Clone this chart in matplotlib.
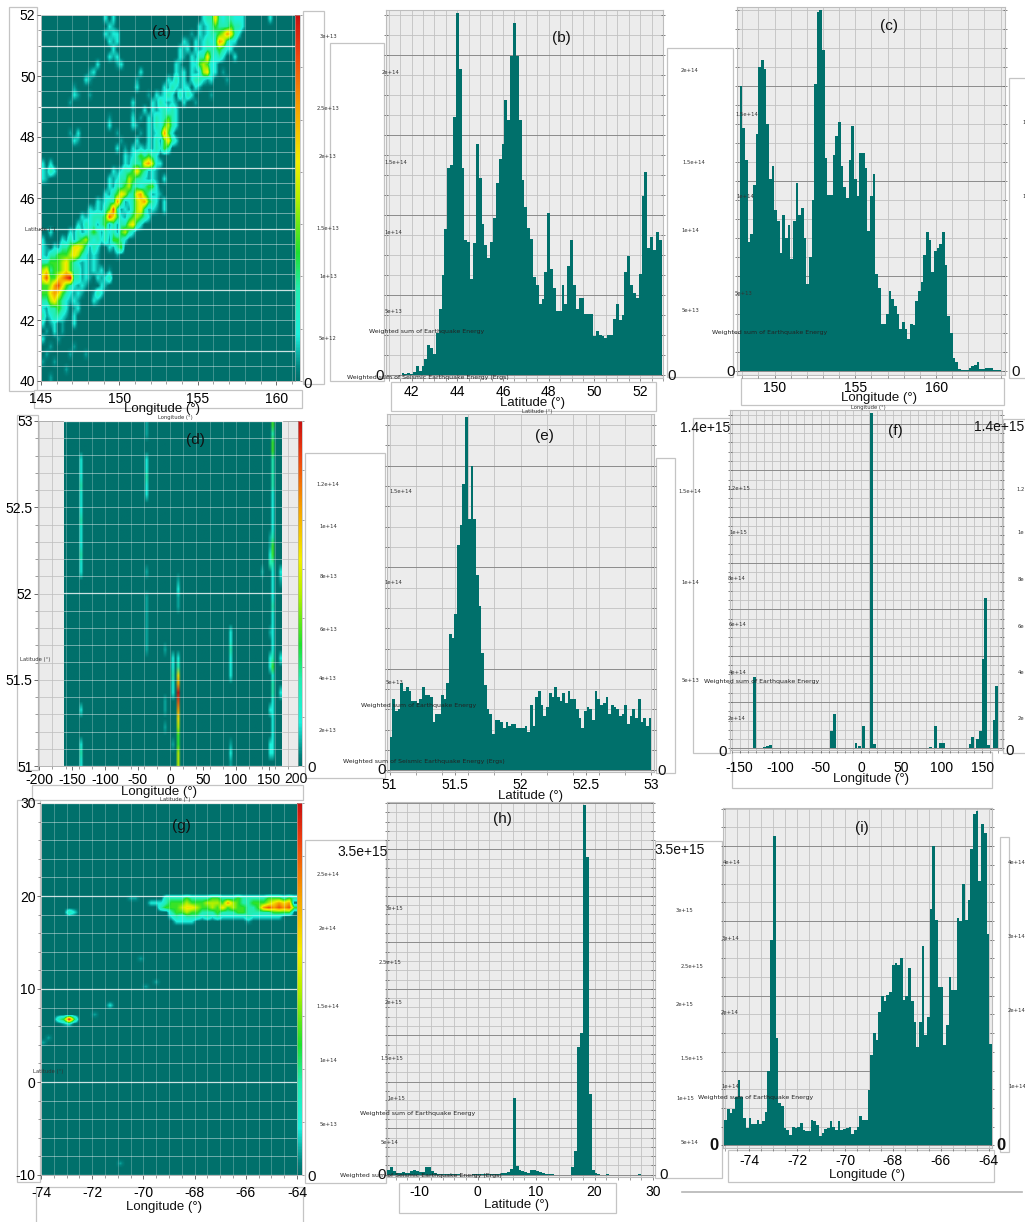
import numpy as np
import matplotlib
matplotlib.use('Agg')
import matplotlib.pyplot as plt
from matplotlib.colors import LinearSegmentedColormap
from matplotlib.patches import Rectangle
from matplotlib.ticker import MultipleLocator

W = 1025
H = 1222
plt.rcParams['font.family'] = ['Liberation Sans', 'DejaVu Sans']

# energy level of each cell as one digit, 1 = 1/8 of the colour scale, + = half of 1
a_rows = [
    "................1.1......................12252122111......1",
    ".................1+.....................1+1232223221",
    "................1+11..................+.1+122346521",
    ".................1+1................1+.1+121265211",
    "..................1................1+1.1+12223211",
    ".................1+1...............1+.1+2252121..1",
    "..............1....+1.............1+..1134311",
    "............+1...........1........1+1.1+14511.+",
    "...........1+...........+.......1+2+1.1221+1...+",
    "........+...............1......1+21+11.1+",
    "........1+..+..............+.1+121.2+21....+",
    ".......+...............1....1+21+1+.1..+",
    ".......................+..1.1+12121",
    ".................+.....1.+.1+212321",
    ".................1.....1+..1+213421",
    ".......+.1.........+.....+.1+12631",
    "........1+..........+...1..1+2+3521",
    "...................1.+.1+1+1+2132",
    ".....................1+1232321",
    "1.1..................1+22256411",
    "1+21..............1+1223532+1+",
    "1+...............1+12243221+1+.1",
    ".................1+22342212331",
    "................1+2354225632+1+",
    "..............1+12263+12456321.1",
    "............1+1+2372+1+2452+1+.1",
    "..........1+122237531+234321",
    ".........1+212+23+2+224521",
    "..1....1+2+1232+212+3421",
    "1....1+2+23421212+3321",
    "1+.1+2235542+21..1+23",
    "1+2233345421+1+....+",
    "2233345321+1+1+",
    "4523345322+1+1+1.+",
    "5733567822+1+.1+12",
    "334675321+1+...1+",
    "33565321+1+..+21",
    "2245321+1+...1+",
    "1+22321.+1",
    "2+1221+.1",
    "1.+1.+..1",
    ".+.1.+",
    "1...+",
    "..+.....+",
    ".+.....+...+",
    "+..+",
    "......+",
    "..+",
]

# longitude of each streak and its level along latitude, from 53 down to 51
d_lons = [-135, -37, 12, 2, 92, 150, 155, 168, 140, -8]
d_columns = [
    "....11121112111211...............1...1212",
    "++..11211........+..+++++++",
    "..................+1++.....12568765433443",
    "...........................11211.....+",
    "........................112111.......+1+",
    ".............++12.......+..11....1...11",
    "323322221111123321111211111231221111111",
    ".................1+........1...1",
    ".................+",
    "..........................+.....++.+",
]

# only the latitudes with something on them are listed
g_lats = [19.75, 19.25, 18.75, 18.25, 17.75, 17.25, 13.25, 10.75, 10.25, 8.25, 7.25, 6.75, 6.25, 4.75, 4.25, -8.75]
g_rows = [
    ".................++.....22223222233222322222333232",
    ".....................1112333433344436432233345656",
    ".......................233345543343534332236767673",
    ".....21..................233433222322233222223333",
    ".........................1212221212111112111111",
    "..........................1111..........+",
    "...................+",
    "......................+",
    "....................+",
    ".............1",
    "..........+",
    "...2383.",
    "....+1",
    ".+",
    "+",
    "...............+",
]

b_start = 41.56
b_step = 0.125
b_values = [0.1, 0.06, 0.1, 0.06, 0.15, 0.56, 0.2, 0.56, 0.98, 1.87, 1.67, 1.31, 2.6, 4.1, 6.2, 9.1, 12.9, 13.1,
            16.1, 22.6, 19.1, 12.9, 8.4, 8.3, 6.0, 8.2, 14.4, 12.3, 9.4, 8.1, 7.3, 8.3, 9.8, 12.0, 13.5, 14.4,
            17.2, 15.9, 19.9, 22.0, 19.9, 15.9, 12.2, 10.5, 9.2, 8.5, 6.1, 5.6, 4.4, 4.7, 6.4, 10.1, 6.6, 5.4,
            4.0, 4.0, 5.6, 4.4, 6.8, 8.4, 5.6, 4.1, 4.8, 4.8, 3.8, 3.8, 3.8, 2.4, 2.7, 2.5, 2.4, 2.3, 2.5, 2.5,
            3.5, 4.4, 3.4, 3.7, 6.4, 7.4, 5.6, 5.1, 4.8, 6.3, 11.2, 12.7, 7.9, 8.6, 7.8, 8.9, 8.4]

c_start = 147.83
c_step = 0.165
c_values = [15.0, 12.8, 11.1, 6.8, 7.2, 9.8, 12.5, 16.0, 16.4, 15.9, 13.0, 10.1, 10.8, 8.5, 7.9, 6.2, 8.2, 7.0,
            7.7, 5.9, 7.9, 9.9, 8.2, 8.6, 7.0, 4.6, 6.0, 9.0, 15.1, 18.9, 19.0, 16.9, 11.2, 9.3, 9.3, 11.4, 12.4,
            13.1, 10.8, 9.7, 9.1, 11.1, 12.9, 10.1, 9.2, 11.5, 11.5, 10.7, 7.4, 9.2, 10.4, 5.1, 4.4, 2.5, 2.5,
            3.0, 4.2, 3.8, 3.4, 3.0, 2.2, 2.6, 2.2, 1.7, 2.5, 2.4, 3.7, 4.2, 4.7, 6.1, 7.3, 6.9, 5.2, 6.3, 6.5,
            6.7, 7.3, 5.6, 2.9, 2.0, 0.67, 0.49, 0.09, 0.05, 0.05, 0.05, 0.14, 0.26, 0.32, 0.49, 0.09, 0.09,
            0.14, 0.14, 0.14, 0.05, 0.05, 0.05]

e_start = 51.0
e_values = [1.65, 3.5, 2.9, 3.0, 4.3, 3.9, 4.1, 3.9, 3.4, 3.4, 3.3, 3.5, 4.1, 3.7, 3.7, 3.6, 2.4, 2.8, 2.8, 3.7,
            3.5, 4.3, 6.7, 6.5, 7.7, 11.1, 12.1, 14.1, 17.4, 12.4, 15.0, 12.4, 9.6, 8.1, 5.8, 4.2, 3.0, 2.8, 1.8,
            2.5, 2.5, 2.4, 2.1, 2.4, 2.2, 2.3, 2.3, 2.1, 2.1, 2.1, 2.2, 1.9, 3.2, 2.2, 3.6, 3.9, 3.2, 2.7, 3.1,
            3.8, 3.6, 4.1, 3.6, 3.4, 3.8, 3.3, 3.9, 3.5, 3.5, 3.0, 2.6, 2.1, 2.9, 3.1, 3.0, 2.5, 3.9, 3.5, 3.2,
            3.3, 3.6, 2.8, 3.2, 3.1, 3.0, 2.7, 2.8, 3.2, 2.3, 2.7, 3.0, 2.6, 3.5, 2.4, 2.6, 2.2, 2.6]

f_lons = [-160, -146, -137.5, -133.4, -129, -125, -121, -117, -114, -111, -84, -38.8, -35, -8, -3.6, 1.3, 6, 11.4, 15,
          77, 84, 90, 97, 100, 110, 128, 133.5, 136, 142.6, 146, 149.6, 152.5, 156, 163, 166]
f_values = [0.03, 0.02, 0.03, 3.1, 0.03, 0.02, 0.05, 0.12, 0.15, 0.03, 0.03, 0.75, 1.5, 0.22, 0.1, 0.95, 0.03, 14.46,
            0.17, 0.02, 0.05, 0.97, 0.25, 0.25, 0.02, 0.03, 0.17, 0.5, 0.4, 0.75, 3.84, 6.5, 0.15, 1.22, 2.7]

h_start = -15.5
h_step = 0.5
h_values = [0.47, 0.83, 0.4, 0.2, 0.2, 0.25, 0.2, 0.2, 0.35, 0.55, 0.35, 0.25, 0.25, 0.8, 0.8, 0.35, 0.2, 0.12, 0.1,
            0.05, 0.05, 0.02, 0.02, 0.02, 0.02, 0, 0, 0, 0, 0.02, 0.02, 0.02, 0.02, 0.02, 0.03, 0.03, 0.05, 0.1,
            0.12, 0.15, 0.2, 0.25, 0.57, 8.2, 0.9, 0.55, 0.35, 0.3, 0.15, 0.45, 0.45, 0.35, 0.25, 0.15, 0.12, 0.1,
            0.08, 0, 0, 0, 0, 0, 0, 0.8, 2.6, 13.7, 15.2, 39.8, 34.2, 8.7, 0.55, 0.2, 0.05, 0, 0, 0.05, 0, 0, 0, 0,
            0, 0, 0, 0, 0, 0, 0.05]

i_start = -75.05
i_step = 0.113
i_values = [0.34, 0.48, 0.43, 0.48, 0.65, 0.87, 0.65, 0.36, 0.23, 0.36, 0.28, 0.28, 0.34, 0.28, 0.32, 0.45, 1.0, 2.74,
            4.14, 1.43, 0.56, 0.52, 0.23, 0.21, 0.14, 0.25, 0.23, 0.25, 0.3, 0.21, 0.19, 0.19, 0.34, 0.32, 0.27,
            0.13, 0.16, 0.22, 0.23, 0.32, 0.25, 0.2, 0.32, 0.21, 0.22, 0.23, 0.24, 0.15, 0.21, 0.25, 0.39, 0.34,
            0.34, 0.74, 1.21, 1.5, 1.41, 1.78, 1.99, 1.93, 2.01, 2.05, 2.41, 2.44, 2.41, 2.51, 1.94, 2.0, 2.37,
            1.93, 1.65, 1.31, 1.65, 2.67, 1.48, 1.71, 3.16, 4.0, 3.01, 2.11, 2.11, 1.34, 1.61, 2.25, 2.08, 2.08,
            3.04, 3.0, 3.5, 3.01, 3.28, 3.96, 4.43, 4.47, 3.54, 4.29, 4.17, 2.83, 1.36]

TEAL = '#00706b'
energy_map = LinearSegmentedColormap.from_list('energy', [
    (0.0, TEAL), (0.03, '#00807c'), (0.125, '#1cf0dc'), (0.25, '#24ecb0'), (0.35, '#1fe030'),
    (0.5, '#b4f000'), (0.6, '#f2ee00'), (0.75, '#f5a000'), (0.9, '#ee4010'), (1.0, '#c81010')])


def level(ch):
    if ch == '.':
        return 0.0
    if ch == '+':
        return 0.5
    return float(ch)


def fig_box(l, t, r, b):
    return [l / W, 1 - b / H, (r - l) / W, (b - t) / H]


def frame(l, t, r, b):
    fig.add_artist(Rectangle((l / W, 1 - b / H), (r - l) / W, (b - t) / H, transform=fig.transFigure,
                             fc='white', ec='#c4c4c4', lw=0.9, zorder=-1))


def put(x, y, s, size=9.5, **kw):
    kw.setdefault('ha', 'center')
    kw.setdefault('color', '#111111')
    fig.text(x / W, 1 - y / H, s, fontsize=size, va='center', **kw)


def tiny(items):
    for x, y, s in items:
        put(x, y, s, size=3.8, family='DejaVu Sans', color='#333333')


def weighted(x, y):
    put(x, y, 'Weighted sum of Earthquake Energy', size=4.5, family='DejaVu Sans', color='#222222')


def seismic(x, y):
    put(x, y, 'Weighted sum of Seismic Earthquake Energy (Ergs)', size=4.5, family='DejaVu Sans', color='#222222')


def heat_panel(box, cb_box, grid, extent, xlim, ylim, vmax, xticks, xlabels, yticks, ylabels, vstep, hstep, bright,
               minor_y, pad=2):
    ax = fig.add_axes(fig_box(*box))
    ax.set_facecolor('#ebebeb')
    im = ax.imshow(grid * vmax / 8.0, extent=extent, origin='upper', aspect='auto', cmap=energy_map, vmin=0, vmax=vmax,
                   interpolation='bilinear', zorder=2)
    ax.set_xlim(xlim)
    ax.set_ylim(ylim)
    ax.set_xticks(xticks)
    ax.set_xticklabels(xlabels)
    ax.set_yticks(yticks)
    ax.set_yticklabels(ylabels)
    ax.xaxis.set_minor_locator(MultipleLocator(vstep))
    ax.yaxis.set_minor_locator(MultipleLocator(minor_y))
    ax.tick_params(axis='x', which='major', labelsize=10, length=3, width=0.6, color='#555555', pad=pad)
    ax.tick_params(axis='y', which='major', labelsize=10, length=3, width=0.6, color='#555555', pad=1)
    ax.tick_params(axis='both', which='minor', length=2, width=0.4, color='#555555')
    for s in ax.spines.values():
        s.set_color('#aaaaaa')
        s.set_linewidth(0.6)
    # white grid sits on the coloured cells, gray one on the empty part
    ax.grid(True, which='both', color='#bdbdbd', lw=0.5, zorder=1)
    x0, x1 = extent[0], extent[1]
    for v in np.arange(np.ceil(ylim[0] / hstep) * hstep, ylim[1] + hstep / 2, hstep):
        strong = np.isclose((v - bright[0]) % bright[1], 0) or np.isclose((v - bright[0]) % bright[1], bright[1])
        ax.plot([x0, x1], [v, v], color='white', lw=0.9 if strong else 0.6, alpha=0.8 if strong else 0.5, zorder=3)
    for v in np.arange(np.ceil(x0 / vstep) * vstep, x1, vstep):
        ax.plot([v, v], [extent[2], extent[3]], color='white', lw=0.5, alpha=0.35, zorder=3)
    cax = fig.add_axes(fig_box(*cb_box))
    cb = fig.colorbar(im, cax=cax)
    cb.set_ticks(np.linspace(0, vmax, 8))
    cb.ax.tick_params(labelright=False, length=1.5, width=0.4, color='#555555')
    cb.outline.set_edgecolor('#aaaaaa')
    cb.outline.set_linewidth(0.4)
    return ax


def hist_panel(box, lefts, values, width, xlim, ylim, xticks, xlabels, major_y, minor_y, grid_x, pad=3):
    ax = fig.add_axes(fig_box(*box))
    ax.set_facecolor('#ececec')
    ax.bar(lefts, values, width=width, align='edge', color=TEAL, lw=0, zorder=3)
    ax.set_xlim(xlim)
    ax.set_ylim(ylim)
    ax.set_xticks(xticks)
    ax.set_xticklabels(xlabels)
    ax.yaxis.set_major_locator(MultipleLocator(major_y))
    ax.yaxis.set_minor_locator(MultipleLocator(minor_y))
    ax.xaxis.set_minor_locator(MultipleLocator(grid_x))
    ax.grid(True, axis='y', which='major', color='#8c8c8c', lw=0.7, zorder=1)
    ax.grid(True, axis='y', which='minor', color='#c2c2c2', lw=0.6, zorder=1)
    ax.grid(True, axis='x', which='both', color='#c2c2c2', lw=0.6, zorder=1)
    ax.tick_params(axis='y', which='both', left=True, right=True, labelleft=False, direction='inout', length=3,
                   width=0.5, color='#555555')
    ax.tick_params(axis='x', which='major', labelsize=10, length=2, width=0.5, color='#555555', pad=pad)
    ax.tick_params(axis='x', which='minor', length=2, width=0.4, color='#555555')
    for s in ax.spines.values():
        s.set_color('#bdbdbd')
        s.set_linewidth(0.8)
    return ax


fig = plt.figure(figsize=(W / 100, H / 100), dpi=100, facecolor='white')

# outlines left over around the original panels
for f in [(9, 7, 37, 391), (303, 11, 324, 384), (330, 43, 384, 381), (34, 390, 302, 408), (391, 382, 656, 411),
          (667, 48, 733, 377), (1009, 78, 1030, 378), (741, 378, 1004, 405),
          (17, 415, 38, 770), (305, 453, 385, 778), (32, 785, 303, 800), (656, 458, 675, 773), (693, 418, 730, 753),
          (1003, 419, 1030, 753), (732, 752, 992, 788),
          (17, 800, 40, 1182), (305, 840, 386, 1183), (36, 1187, 303, 1230), (399, 1183, 616, 1213),
          (655, 841, 722, 1178), (1000, 837, 1009, 1152), (728, 1150, 994, 1182)]:
    frame(*f)

# (a) heat map
a_grid = np.zeros((48, 65))
for r, row in enumerate(a_rows):
    for c, ch in enumerate(row[:65]):
        a_grid[r, c] = level(ch)
heat_panel((41, 15, 295, 381), (295, 15, 300, 381), a_grid, (145, 161.25, 40, 52), (145, 161.2), (40, 52), 3.2e13,
           [145, 150, 155, 160], ['145', '150', '155', '160'], [40, 42, 44, 46, 48, 50, 52],
           ['40', '42', '44', '46', '48', '50', '52'], 1, 0.5, (1, 2), 0.5, pad=5)
put(161, 32, '(a)', size=11)
put(162, 409, 'Longitude (°)')
put(308, 384, '0', size=11)
tiny([(328, 36, '3e+13'), (328, 108, '2.5e+13'), (328, 156, '2e+13'), (328, 229, '1.5e+13'), (328, 277, '1e+13'),
      (328, 338, '5e+12'), (40, 229, 'Latitude (°)'), (175, 418, 'Longitude (°)')])

# (b)
hist_panel((386, 10, 663, 378), b_start + b_step * np.arange(len(b_values)), np.array(b_values) * 1e13, b_step,
           (40.88, 53.0), (-0.21e13, 22.8e13), [42, 44, 46, 48, 50, 52], ['42', '44', '46', '48', '50', '52'],
           5e13, 1.25e13, 0.5, pad=3)
put(561, 38, '(b)', size=11)
put(532, 403, 'Latitude (°)')
put(380, 376, '0', size=11)
put(672, 376, '0', size=11)
weighted(427, 331)
seismic(428, 378)
tiny([(391, 72, '2e+14'), (396, 162, '1.5e+14'), (393, 232, '1e+14'), (393, 312, '5e+13'),
      (690, 71, '2e+14'), (694, 163, '1.5e+14'), (690, 231, '1e+14'), (690, 310, '5e+13'), (537, 412, 'Latitude (°)')])

# (c)
hist_panel((737, 7, 1005, 375), c_start + c_step * np.arange(len(c_values)), np.array(c_values) * 1e13, c_step,
           (147.67, 164.27), (-0.21e13, 19.18e13), [150, 155, 160], ['150', '155', '160'], 5e13, 1e13, 1, pad=2)
put(889, 26, '(c)', size=11)
put(879, 398, 'Longitude (°)')
put(731, 372, '0', size=11)
put(1016, 372, '0', size=11)
weighted(770, 332)
tiny([(747, 114, '1.5e+14'), (745, 197, '1e+14'), (743, 293, '5e+13'), (1024, 122, '1'), (1024, 197, '1'),
      (868, 407, 'Longitude (°)')])

# (d) heat map
d_grid = np.zeros((40, 83))
for lon, col in zip(d_lons, d_columns):
    k = int((lon + 162) // 4)
    for r, ch in enumerate(col[:40]):
        d_grid[r, k] = level(ch)
heat_panel((38, 421, 298, 766), (298, 421, 302, 766), d_grid, (-162, 170, 51, 53), (-202, 195), (51, 53), 1.4e14,
           [-200, -150, -100, -50, 0, 50, 100, 150],
           ['-200', '-150', '-100', '-50', '0', '50', '100', '150'], [51, 51.5, 52, 52.5, 53],
           ['51', '51.5', '52', '52.5', '53'], 20, 0.1, (52, 1), 0.1, pad=2)
put(195, 440, '(d)', size=11)
put(159, 792, 'Longitude (°)')
put(296, 779, '200', size=10)
put(312, 768, '0', size=11)
tiny([(328, 485, '1.2e+14'), (328, 527, '1e+14'), (328, 577, '8e+13'), (328, 629, '6e+13'), (328, 679, '4e+13'),
      (328, 730, '2e+13'), (35, 659, 'Latitude (°)'), (175, 799, 'Latitude (°)')])

# (e)
hist_panel((387, 414, 654, 772), e_start + (2.0 / len(e_values)) * np.arange(len(e_values)), np.array(e_values) * 1e13,
           2.0 / len(e_values), (50.98, 53.02), (-0.08e13, 17.55e13), [51, 51.5, 52, 52.5, 53],
           ['51', '51.5', '52', '52.5', '53'], 5e13, 1e13, 0.2, pad=2)
put(544, 436, '(e)', size=11)
put(531, 796, 'Latitude (°)')
put(382, 770, '0', size=11)
put(662, 771, '0', size=11)
weighted(419, 706)
seismic(424, 761)
tiny([(401, 492, '1.5e+14'), (393, 583, '1e+14'), (394, 683, '5e+13'), (690, 492, '1.5e+14'), (690, 583, '1e+14'),
      (690, 681, '5e+13')])

# (f)
hist_panel((730, 410, 1002, 750), f_lons, np.array(f_values) * 1e14, 3.6, (-162, 174.4), (-0.07e14, 14.6e14),
           [-150, -100, -50, 0, 50, 100, 150], ['-150', '-100', '-50', '0', '50', '100', '150'], 2e14, 0.4e14, 10,
           pad=6)
put(895, 431, '(f)', size=11)
put(871, 779, 'Longitude (°)')
put(705, 428, '1.4e+15', size=10)
put(999, 427, '1.4e+15', size=10)
put(723, 752, '0', size=11)
put(1010, 751, '0', size=11)
weighted(762, 682)
tiny([(739, 488, '1.2e+15'), (738, 532, '1e+15'), (737, 578, '8e+14'), (738, 625, '6e+14'), (738, 672, '4e+14'),
      (737, 718, '2e+14'), (1021, 489, '1.2'), (1021, 533, '1e'), (1021, 579, '8e'), (1021, 626, '6e'),
      (1021, 672, '4e'), (1021, 718, '2e')])

# (g) heat map
g_grid = np.zeros((80, 50))
for lat, row in zip(g_lats, g_rows):
    r = int((30 - lat) / 0.5)
    for c, ch in enumerate(row[:50]):
        g_grid[r, c] = level(ch)
heat_panel((41, 803, 297, 1175), (297, 803, 302, 1175), g_grid, (-74, -64, -10, 30), (-74, -64), (-10, 30), 2.8e14,
           [-74, -72, -70, -68, -66, -64], ['-74', '-72', '-70', '-68', '-66', '-64'], [-10, 0, 10, 20, 30],
           ['-10', '0', '10', '20', '30'], 0.5, 2, (10, 10), 2, pad=5)
put(181, 826, '(g)', size=11)
put(164, 1207, 'Longitude (°)')
put(312, 1177, '0', size=11)
tiny([(328, 875, '2.5e+14'), (328, 928, '2e+14'), (328, 1006, '1.5e+14'), (328, 1060, '1e+14'), (328, 1125, '5e+13'),
      (48, 1071, 'Latitude (°)')])

# (h)
hist_panel((387, 802, 653, 1177), h_start + h_step * np.arange(len(h_values)), np.array(h_values) * 1e14, h_step,
           (-15.5, 30.0), (-0.25e14, 40.1e14), [-10, 0, 10, 20, 30], ['-10', '0', '10', '20', '30'], 5e14, 1e14, 2,
           pad=4)
put(502, 819, '(h)', size=11)
put(517, 1205, 'Latitude (°)')
put(363, 852, '3.5e+15', size=10)
put(680, 850, '3.5e+15', size=10)
put(382, 1175, '0', size=11)
put(664, 1175, '0', size=11)
weighted(418, 1114)
seismic(421, 1175)
tiny([(394, 909, '3e+15'), (390, 962, '2.5e+15'), (394, 1002, '2e+15'), (392, 1059, '1.5e+15'), (396, 1098, '1e+15'),
      (390, 1143, '5e+14'), (685, 911, '3e+15'), (692, 967, '2.5e+15'), (685, 1005, '2e+15'), (692, 1059, '1.5e+15'),
      (685, 1098, '1e+15'), (690, 1143, '5e+14')])

# (i)
hist_panel((723, 808, 992, 1148), i_start + i_step * np.arange(len(i_values)), np.array(i_values) * 1e14, i_step,
           (-75.1, -63.86), (-0.036e14, 4.51e14), [-74, -72, -70, -68, -66, -64],
           ['-74', '-72', '-70', '-68', '-66', '-64'], 1e14, 0.25e14, 0.5, pad=2)
put(862, 828, '(i)', size=11)
put(867, 1175, 'Longitude (°)')
put(714, 1145, '0', size=12, fontweight='bold')
put(1001, 1145, '0', size=12, fontweight='bold')
weighted(756, 1098)
tiny([(732, 863, '4e+14'), (730, 938, '3e+14'), (730, 1012, '2e+14'), (730, 1086, '1e+14'), (1017, 862, '4e+14'),
      (1017, 937, '3e+14'), (1017, 1011, '2e+14'), (1017, 1086, '1e+14')])

# strip below the last panel
fig.add_artist(plt.Line2D([682 / W, 1022 / W], [1 - 1192 / H, 1 - 1192 / H], color='#b5b5b5', lw=1.2,
                          transform=fig.transFigure))

fig.savefig('out.png', dpi=100)
